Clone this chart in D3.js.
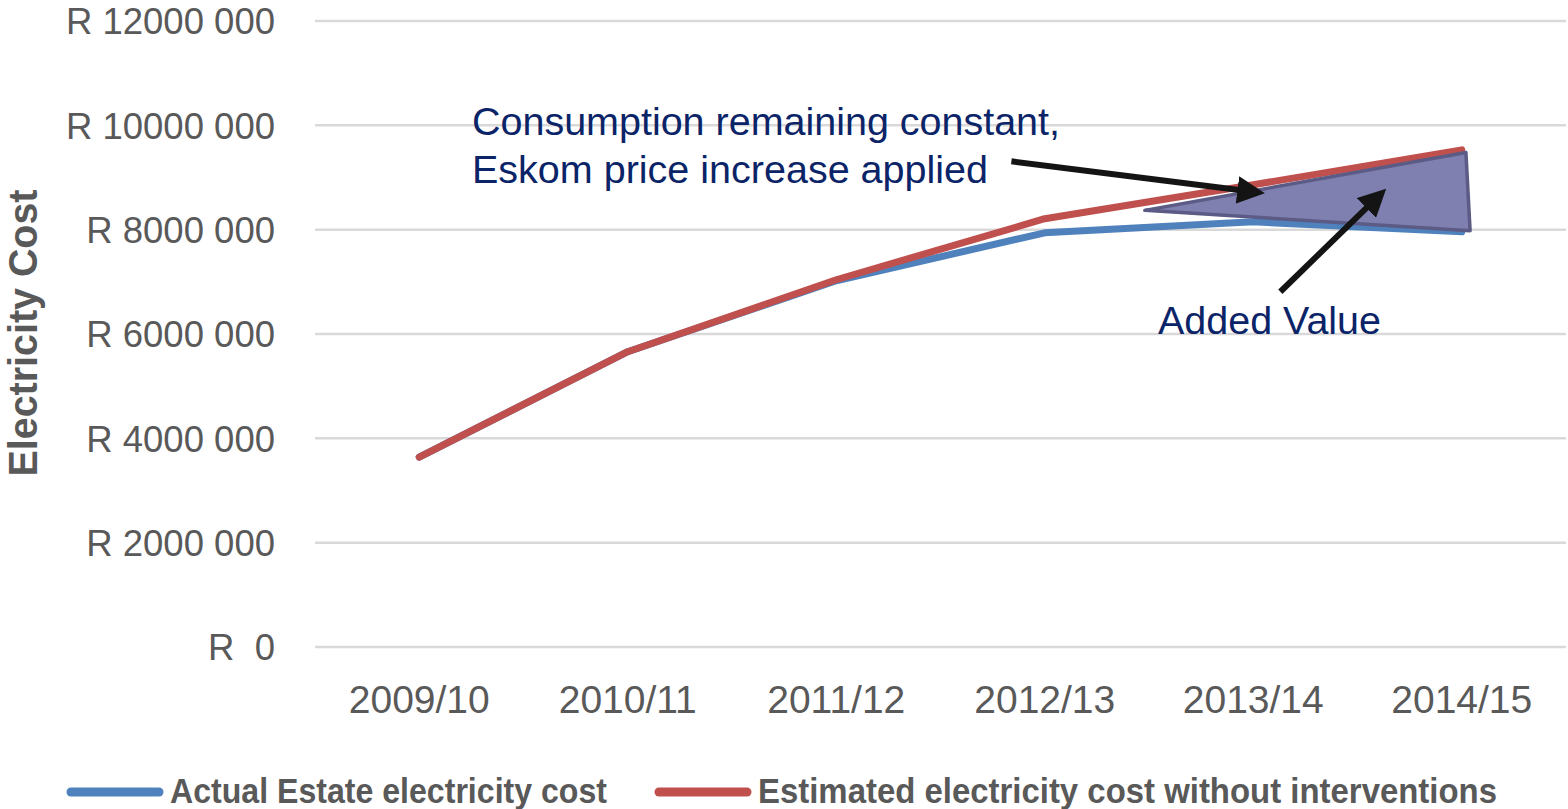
<!DOCTYPE html>
<html>
<head>
<meta charset="utf-8">
<script src="https://cdn.jsdelivr.net/npm/d3@7"></script>
<style>
  body { margin: 0; background: #fff; }
  svg { display: block; }
  text { white-space: pre; }
</style>
</head>
<body>
<div id="chart"></div>
<script>
// chart values
const years = ["2009/10", "2010/11", "2011/12", "2012/13", "2013/14", "2014/15"];
const actualCost = [3640000, 5660000, 7020000, 7940000, 8150000, 7960000];
const estimatedCost = [3640000, 5660000, 7040000, 8210000, 8860000, 9530000];
const yTicks = [0, 2000000, 4000000, 6000000, 8000000, 10000000, 12000000];
const seriesNames = ["Actual Estate electricity cost", "Estimated electricity cost without interventions"];
const seriesColors = ["#4F81BD", "#C0504D"];

const width = 1568;
const height = 809;
const margin = { top: 21, right: 2, bottom: 162, left: 315 };
const innerwidth = width - margin.left - margin.right;
const innerheight = height - margin.top - margin.bottom;

const svg = d3.select("#chart").append("svg")
    .attr("width", width)
    .attr("height", height);

const g = svg.append("g")
    .attr("transform", "translate(" + margin.left + "," + margin.top + ")");

const x = d3.scaleBand()
    .domain(years)
    .range([0, innerwidth]);

// index scale, used for the annotation shape which sits between categories
const xi = d3.scaleLinear()
    .domain([0, years.length - 1])
    .range([x(years[0]) + x.bandwidth() / 2, x(years[years.length - 1]) + x.bandwidth() / 2]);

const y = d3.scaleLinear()
    .domain([0, 12000000])
    .range([innerheight, 0]);

//gridlines
g.selectAll(".grid")
    .data(yTicks)
    .enter()
    .append("line")
    .attr("x1", 0)
    .attr("x2", innerwidth)
    .attr("y1", function (d) { return y(d); })
    .attr("y2", function (d) { return y(d); })
    .attr("stroke", "#D9D9D9")
    .attr("stroke-width", 2.5);

//y axis labels
const fmt = function (d) {
    if (d === 0) return "R  0";
    const m = Math.floor(d / 1000);
    return "R " + m + " 000";
};
const yAxis = g.append("g")
    .call(d3.axisLeft(y).tickValues(yTicks).tickFormat(fmt).tickSize(0).tickPadding(40));
yAxis.select(".domain").remove();
yAxis.selectAll("text")
    .attr("font-family", "Liberation Sans, Arial, sans-serif")
    .attr("font-size", 36.5)
    .attr("fill", "#595959")
    .attr("dy", "0.35em");

//x axis labels
const xAxis = g.append("g")
    .attr("transform", "translate(0," + innerheight + ")")
    .call(d3.axisBottom(x).tickSize(0).tickPadding(0));
xAxis.select(".domain").remove();
xAxis.selectAll("text")
    .attr("font-family", "Liberation Sans, Arial, sans-serif")
    .attr("font-size", 39)
    .attr("fill", "#595959")
    .attr("dy", null)
    .attr("y", 66);

//y axis title
svg.append("text")
    .attr("transform", "translate(37," + 333 + ") rotate(-90)")
    .attr("text-anchor", "middle")
    .attr("font-family", "Liberation Sans, Arial, sans-serif")
    .attr("font-weight", "bold")
    .attr("font-size", 40)
    .attr("textLength", 287)
    .attr("lengthAdjust", "spacingAndGlyphs")
    .attr("fill", "#595959")
    .text("Electricity Cost");

//lines
const line = d3.line()
    .x(function (d, i) { return x(years[i]) + x.bandwidth() / 2; })
    .y(function (d) { return y(d); });

[actualCost, estimatedCost].forEach(function (series, k) {
    g.append("path")
        .datum(series)
        .attr("d", line)
        .attr("fill", "none")
        .attr("stroke", seriesColors[k])
        .attr("stroke-width", 7)
        .attr("stroke-linecap", "round")
        .attr("stroke-linejoin", "round");
});

//added value triangle (annotation, in index / value units)
const triangle = [[3.48, 8370000], [5.02, 9480000], [5.04, 7980000]];
g.append("path")
    .attr("d", "M" + triangle.map(function (p) { return xi(p[0]) + "," + y(p[1]); }).join("L") + "Z")
    .attr("fill", "#7F7FB0")
    .attr("stroke", "#5B5B85")
    .attr("stroke-width", 3.5)
    .attr("stroke-linejoin", "round");

//arrows
const defs = svg.append("defs");
defs.append("marker")
    .attr("id", "arrow")
    .attr("viewBox", "0 0 10 10")
    .attr("refX", 5)
    .attr("refY", 5)
    .attr("markerWidth", 4.6)
    .attr("markerHeight", 4.6)
    .attr("orient", "auto")
    .append("path")
    .attr("d", "M0,0L10,5L0,10Z")
    .attr("fill", "#141414");

const arrows = [
    [[2.84, 9310000], [3.99, 8730000]],
    [[4.13, 6810000], [4.59, 8600000]]
];
arrows.forEach(function (a) {
    g.append("line")
        .attr("x1", xi(a[0][0]))
        .attr("y1", y(a[0][1]))
        .attr("x2", xi(a[1][0]))
        .attr("y2", y(a[1][1]))
        .attr("stroke", "#141414")
        .attr("stroke-width", 6)
        .attr("marker-end", "url(#arrow)");
});

//annotation text
const noteFont = "Liberation Sans, Arial, sans-serif";
const notes = [
    { text: "Consumption remaining constant,", x: 472, y: 135, len: 588 },
    { text: "Eskom price increase applied", x: 472, y: 183, len: 516 },
    { text: "Added Value", x: 1158, y: 334, len: 223 }
];
notes.forEach(function (n) {
    svg.append("text")
        .attr("x", n.x)
        .attr("y", n.y)
        .attr("font-family", noteFont)
        .attr("font-size", 38)
        .attr("textLength", n.len)
        .attr("lengthAdjust", "spacingAndGlyphs")
        .attr("fill", "#0B2468")
        .text(n.text);
});

//legend
const legendX = [67, 655];
const legendLen = [437, 739];
seriesNames.forEach(function (name, k) {
    svg.append("line")
        .attr("x1", legendX[k] + 4)
        .attr("x2", legendX[k] + 92)
        .attr("y1", 792)
        .attr("y2", 792)
        .attr("stroke", seriesColors[k])
        .attr("stroke-width", 9)
        .attr("stroke-linecap", "round");
    svg.append("text")
        .attr("x", legendX[k] + 103)
        .attr("y", 803)
        .attr("font-family", "Liberation Sans, Arial, sans-serif")
        .attr("font-weight", "bold")
        .attr("font-size", 35)
        .attr("textLength", legendLen[k])
        .attr("lengthAdjust", "spacingAndGlyphs")
        .attr("fill", "#595959")
        .text(name);
});
</script>
</body>
</html>
